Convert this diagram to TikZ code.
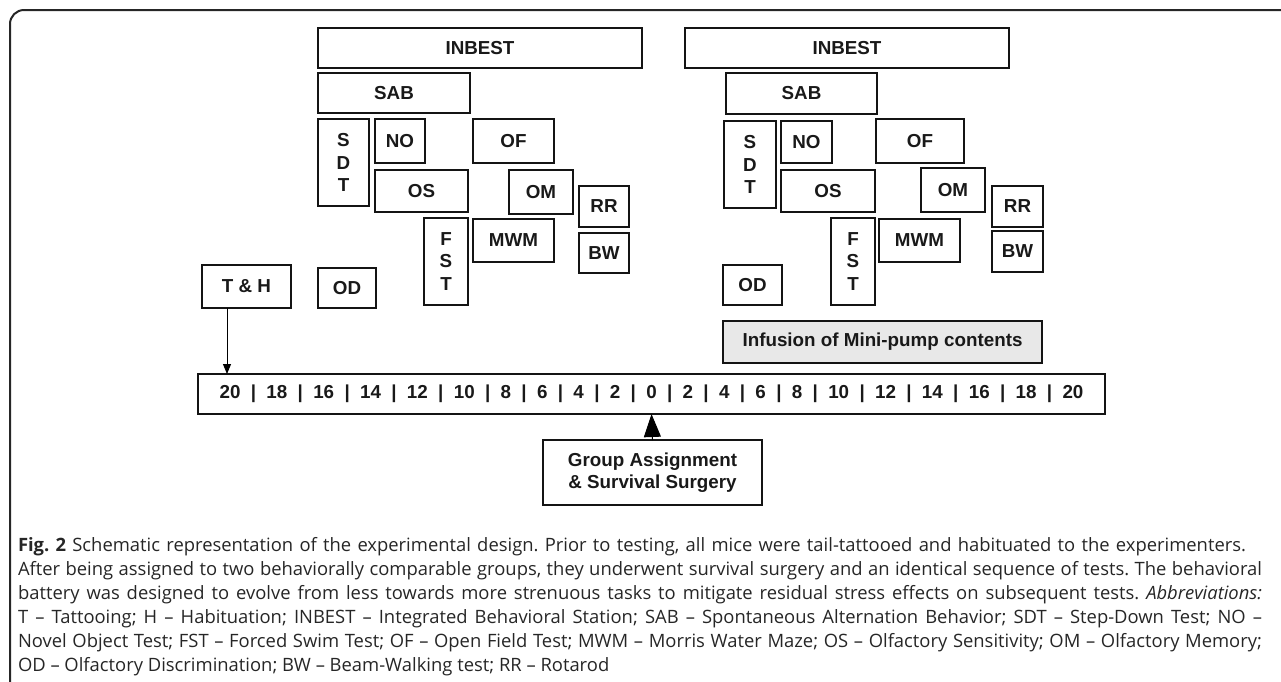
\documentclass[tikz,border=0pt]{standalone}
\usepackage{fontspec}
\setmainfont{Liberation Sans}
\newfontfamily\capfont{Open Sans}
\usetikzlibrary{arrows.meta}
\frenchspacing
\tikzset{
  box/.style={draw=black!92, line width=1.8pt, inner sep=0pt, outer sep=0pt,
    font=\bfseries\fontsize{18.8}{22.5}\selectfont, align=center, text=black!90},
  grey/.style={fill=black!9},
  capline/.style={anchor=base west, inner sep=0pt, outer sep=0pt,
    font=\capfont\fontsize{18.4}{24}\selectfont, text=black!85},
  thinarrow/.style={draw=black, line width=1pt, -{Triangle[length=10pt,width=8pt]}},
  bigtri/.style={draw=black, line width=1pt, -{Triangle[length=23pt,width=17pt]}},
  frame/.style={draw=black!85, line width=2pt, rounded corners=14pt}
}
\newcommand\tsep{\hspace{0.55em}|\hspace{0.55em}}
\begin{document}
\begin{tikzpicture}[x=1pt,y=-1pt]
\useasboundingbox (0,0) rectangle (1281,681);
% frame
\draw[frame] (10,690) -- (10,10) -- (1290,10);
% left group
\node[box, minimum width=324, minimum height=40] (inb1) at (480,48) {INBEST};
\node[box, minimum width=152, minimum height=40] (sab1) at (394,93) {SAB};
\node[box, minimum width=51, minimum height=87] (sdt1) at (343.5,162.5) {S\\D\\T};
\node[box, minimum width=50, minimum height=44] (no1) at (400,141) {NO};
\node[box, minimum width=81, minimum height=44] (of1) at (513.5,141) {OF};
\node[box, minimum width=93, minimum height=42] (os1) at (421.5,191) {OS};
\node[box, minimum width=64, minimum height=44] (om1) at (541,192) {OM};
\node[box, minimum width=50, minimum height=41] (rr1) at (604,206.5) {RR};
\node[box, minimum width=50, minimum height=40] (bw1) at (604,253) {BW};
\node[box, minimum width=44, minimum height=87] (fst1) at (446,261.5) {F\\S\\T};
\node[box, minimum width=81, minimum height=43] (mwm1) at (513.5,240.5) {MWM};
\node[box, minimum width=89, minimum height=43] (th) at (246.5,286.5) {T \& H};
\node[box, minimum width=58, minimum height=40] (od1) at (347,288) {OD};
% right group
\node[box, minimum width=324, minimum height=40] (inb2) at (847,48) {INBEST};
\node[box, minimum width=151, minimum height=41] (sab2) at (801.5,93.5) {SAB};
\node[box, minimum width=52, minimum height=87] (sdt2) at (750,164.5) {S\\D\\T};
\node[box, minimum width=51, minimum height=42] (no2) at (806.5,142) {NO};
\node[box, minimum width=88, minimum height=44] (of2) at (920,141) {OF};
\node[box, minimum width=94, minimum height=42] (os2) at (828,191) {OS};
\node[box, minimum width=64, minimum height=44] (om2) at (953,190) {OM};
\node[box, minimum width=51, minimum height=41] (rr2) at (1017.5,206.5) {RR};
\node[box, minimum width=51, minimum height=41] (bw2) at (1017.5,251.5) {BW};
\node[box, minimum width=44, minimum height=87] (fst2) at (853,261.5) {F\\S\\T};
\node[box, minimum width=81, minimum height=43] (mwm2) at (919.5,240.5) {MWM};
\node[box, minimum width=59, minimum height=40] (od2) at (752.5,285) {OD};
\node[box, grey, minimum width=319, minimum height=42] (inf) at (882.5,342) {Infusion of Mini-pump contents};
% timeline
\node[box, minimum width=907, minimum height=40] (tl) at (651.5,394)
  {20\tsep 18\tsep 16\tsep 14\tsep 12\tsep 10\tsep 8\tsep 6\tsep 4\tsep 2\tsep 0\tsep 2\tsep 4\tsep 6\tsep 8\tsep 10\tsep 12\tsep 14\tsep 16\tsep 18\tsep 20};
\node[box, minimum width=219, minimum height=65] (ga) at (652.5,472.5) {Group Assignment\\\& Survival Surgery};
% connectors
\draw[thinarrow] ([xshift=25]th.south west) -- ([xshift=25]th.south west |- tl.north);
\draw[bigtri] (ga.north) -- (tl.south);
% caption
\node[capline] (c1) at (18,551) {\makebox[1228pt][s]{\textbf{Fig. 2} Schematic representation of the experimental design. Prior to testing, all mice were tail-tattooed and habituated to the experimenters.}};
\node[capline] (c2) at (18,575) {\makebox[1244pt][s]{After being assigned to two behaviorally comparable groups, they underwent survival surgery and an identical sequence of tests. The behavioral}};
\node[capline] (c3) at (18,599) {\makebox[1244pt][s]{battery was designed to evolve from less towards more strenuous tasks to mitigate residual stress effects on subsequent tests. \textit{Abbreviations:}}};
\node[capline] (c4) at (18,623) {\makebox[1244pt][s]{T – Tattooing; H – Habituation; INBEST – Integrated Behavioral Station; SAB – Spontaneous Alternation Behavior; SDT – Step-Down Test; NO –}};
\node[capline] (c5) at (18,647) {\makebox[1244pt][s]{Novel Object Test; FST – Forced Swim Test; OF – Open Field Test; MWM – Morris Water Maze; OS – Olfactory Sensitivity; OM – Olfactory Memory;}};
\node[capline] (c6) at (18,671) {OD – Olfactory Discrimination; BW – Beam-Walking test; RR – Rotarod};
\end{tikzpicture}
\end{document}
